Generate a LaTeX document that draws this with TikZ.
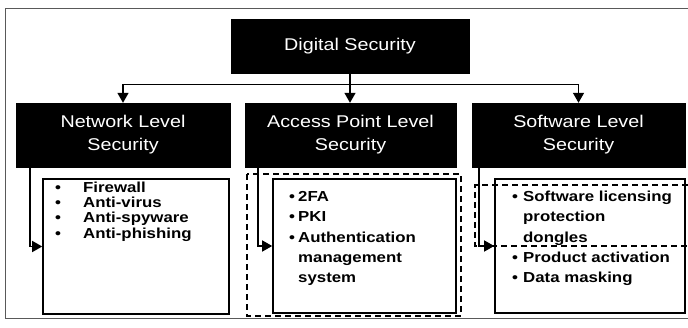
\documentclass[tikz,border=0pt]{standalone}
\usepackage{fontspec}
\setmainfont[FakeStretch=1.16]{Liberation Sans}
\usetikzlibrary{arrows.meta,calc}
\newcommand\lbul[1]{\makebox[#1pt][l]{\textbullet}}
\begin{document}
\begin{tikzpicture}[x=1pt,y=-1pt,
 hdr/.style={draw=black, fill=black, text=white, font=\fontsize{17}{23}\selectfont, align=center, inner sep=0pt},
 listbox/.style={draw=black, line width=1.6pt, fill=white, inner sep=0pt},
 dbox/.style={draw=black, line width=1.9pt, dash pattern=on 6pt off 4pt},
 arr/.style={draw=black, line width=1.4pt, -{Triangle[width=11pt,length=10pt]}},
 ltext/.style={anchor=base west, inner sep=0pt, font=\bfseries\fontsize{14.5}{#1}\selectfont},
]
\useasboundingbox (0,0) rectangle (688,327);
% outer frame
\draw[black!65, line width=0.9pt] (688,318) -- (5,318) -- (5,8) -- (688,8);

% header boxes
\node[hdr, minimum width=238, minimum height=54] (ds) at (350,46) {Digital Security};
\node[hdr, minimum width=214, minimum height=64] (nls) at (123,135) {Network Level\\Security};
\node[hdr, minimum width=211, minimum height=64] (aps) at (350.5,135) {Access Point Level\\Security};
\node[hdr, minimum width=213, minimum height=64] (sls) at (578.5,135) {Software Level\\Security};

% content boxes
\node[listbox, minimum width=186, minimum height=135] (nlc) at (136,246.5) {};
\node[listbox, minimum width=183, minimum height=134] (alc) at (364.5,246) {};
\node[listbox, minimum width=190, minimum height=134] (slc) at (590,246) {};

% list texts
\node[ltext=15.3] (nlt) at (55,192.3) {\begin{tabular}[t]{@{}l@{}}
\lbul{28}Firewall\\
\lbul{28}Anti-virus\\
\lbul{28}Anti-spyware\\
\lbul{28}Anti-phishing
\end{tabular}};
\node[ltext=20.4] (alt) at (289,201.3) {\begin{tabular}[t]{@{}l@{}}
\lbul{9}2FA\\
\lbul{9}PKI\\
\lbul{9}Authentication\\
\hspace*{9pt}management\\
\hspace*{9pt}system
\end{tabular}};
\node[ltext=20.4] (slt) at (512,201.3) {\begin{tabular}[t]{@{}l@{}}
\lbul{11}Software licensing\\
\hspace*{11pt}protection\\
\hspace*{11pt}dongles\\
\lbul{11}Product activation\\
\lbul{11}Data masking
\end{tabular}};

% dashed groupings
\draw[dbox] (247,174) rectangle (461,316);
\draw[dbox] (688,185) -- (475,185) -- (475,246) -- (688,246);

% connectors
\coordinate (bus) at ($(ds.south)+(0,11)$);
\draw[arr] (ds.south) -- (ds.south |- aps.north);
\draw[arr] (bus) -| (nls.north);
\draw[arr] (bus) -| (sls.north);
\draw[arr] ([xshift=14pt]nls.south west) |- (nlc.west);
\draw[arr] ([xshift=13pt]aps.south west) |- (alc.west);
\draw[arr] ([xshift=7pt]sls.south west) |- (slc.west);
\end{tikzpicture}
\end{document}
